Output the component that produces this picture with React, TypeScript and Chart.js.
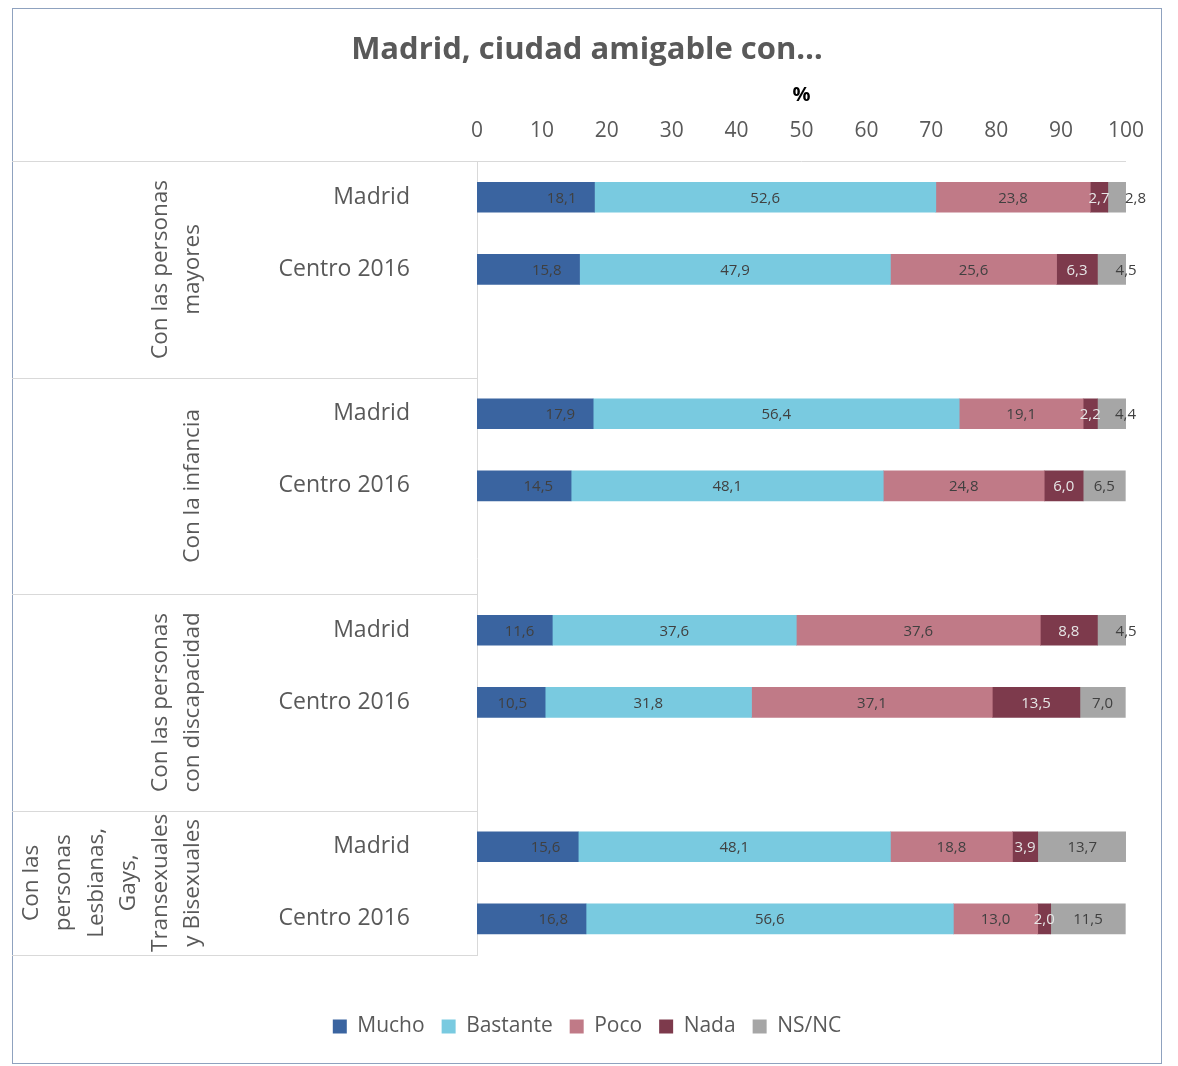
import React, { useEffect, useRef } from 'react';
import { Chart, registerables } from 'chart.js';

Chart.register(...registerables);

const chartTitle = 'Madrid, ciudad amigable con…';
const axisTitle = '%';
const rowLabels = ['Madrid', 'Centro 2016', '', 'Madrid', 'Centro 2016', '', 'Madrid', 'Centro 2016', '', 'Madrid', 'Centro 2016'];
const groupLabels = [
  ['Con las personas', 'mayores'],
  ['Con la infancia'],
  ['Con las personas', 'con discapacidad'],
  ['Con las', 'personas', 'Lesbianas,', 'Gays,', 'Transexuales', 'y Bisexuales'],
];
const groupSizes = [3, 3, 3, 2];
const seriesNames = ['Mucho', 'Bastante', 'Poco', 'Nada', 'NS/NC'];
const mucho = [18.1, 15.8, null, 17.9, 14.5, null, 11.6, 10.5, null, 15.6, 16.8];
const bastante = [52.6, 47.9, null, 56.4, 48.1, null, 37.6, 31.8, null, 48.1, 56.6];
const poco = [23.8, 25.6, null, 19.1, 24.8, null, 37.6, 37.1, null, 18.8, 13.0];
const nada = [2.7, 6.3, null, 2.2, 6.0, null, 8.8, 13.5, null, 3.9, 2.0];
const nsnc = [2.8, 4.5, null, 4.4, 6.5, null, 4.5, 7.0, null, 13.7, 11.5];
const xMin = 0;
const xMax = 100;
const xStep = 10;

const seriesValues = [mucho, bastante, poco, nada, nsnc];
const seriesColors = ['#3A64A0', '#79CAE0', '#C07A87', '#7D3A4C', '#A6A6A6'];
const labelColors = ['#404040', '#404040', '#404040', '#E6E6E6', '#404040'];

const FONT = "'Open Sans', 'DejaVu Sans', sans-serif";
const TXT = '#595959';
const GRID = '#D9D9D9';

const fmt = (v: number) => v.toFixed(1).replace('.', ',');

const tablePlugin = {
  id: 'tablePlugin',
  afterDraw(chart: any) {
    const ctx = chart.ctx;
    const area = chart.chartArea;
    const y = chart.scales.y;
    const step = y.getPixelForValue(1) - y.getPixelForValue(0);
    ctx.save();
    // outer frame
    ctx.strokeStyle = '#8FA2BF';
    ctx.lineWidth = 1;
    ctx.strokeRect(0.5, 0.5, chart.width - 1, chart.height - 1);
    // table lines and group labels
    ctx.strokeStyle = GRID;
    let start = 0;
    const drawH = (py: number) => {
      ctx.beginPath();
      ctx.moveTo(0, Math.round(py) + 0.5);
      ctx.lineTo(area.left, Math.round(py) + 0.5);
      ctx.stroke();
    };
    drawH(y.getPixelForValue(0) - step / 2);
    groupSizes.forEach((n, g) => {
      const top = y.getPixelForValue(start) - step / 2;
      const bottom = y.getPixelForValue(start + n - 1) + step / 2;
      drawH(bottom);
      const cy = (top + bottom) / 2;
      const lines = groupLabels[g];
      const lastX = area.left - 284;
      const gap = 32.3;
      ctx.fillStyle = TXT;
      ctx.font = `22.5px ${FONT}`;
      ctx.textAlign = 'center';
      ctx.textBaseline = 'middle';
      lines.forEach((line, i) => {
        const lx = lastX - (lines.length - 1 - i) * gap;
        ctx.save();
        ctx.translate(lx, cy);
        ctx.rotate(-Math.PI / 2);
        ctx.fillText(line, 0, 0);
        ctx.restore();
      });
      start += n;
    });
    ctx.restore();
  },
};

const dataLabelPlugin = {
  id: 'dataLabelPlugin',
  afterDatasetsDraw(chart: any) {
    const ctx = chart.ctx;
    ctx.save();
    ctx.font = `15px ${FONT}`;
    ctx.textBaseline = 'middle';
    chart.data.datasets.forEach((ds: any, di: number) => {
      const meta = chart.getDatasetMeta(di);
      meta.data.forEach((bar: any, i: number) => {
        const v = ds.data[i];
        if (v == null) return;
        const { x, y, base } = bar.getProps(['x', 'y', 'base'], true);
        const text = fmt(v);
        const w = ctx.measureText(text).width;
        const segW = x - base;
        ctx.fillStyle = labelColors[di];
        let tx: number;
        if (di === 0) {
          ctx.textAlign = 'right';
          tx = x - 18;
        } else if (di === 4 && segW < w + 2) {
          ctx.textAlign = 'left';
          tx = x - 1;
        } else if (di === 4 && segW < w + 12) {
          ctx.textAlign = 'right';
          tx = x + 10;
        } else {
          ctx.textAlign = 'center';
          tx = (x + base) / 2;
        }
        ctx.fillText(text, tx, y + 1);
      });
    });
    ctx.restore();
  },
};

export default function App() {
  const ref = useRef<HTMLCanvasElement | null>(null);
  useEffect(() => {
    if (!ref.current) return;
    const chart = new Chart(ref.current, {
      type: 'bar',
      data: {
        labels: rowLabels,
        datasets: seriesNames.map((name, i) => ({
          label: name,
          data: seriesValues[i] as any,
          backgroundColor: seriesColors[i],
          borderWidth: 0,
          barThickness: 30,
          xAxisID: 'x',
        })),
      },
      options: {
        indexAxis: 'y',
        responsive: false,
        animation: false,
        layout: { padding: { left: 0, right: 0, top: 0, bottom: 17 } },
        scales: {
          x: {
            position: 'top',
            stacked: true,
            min: xMin,
            max: xMax,
            ticks: { stepSize: xStep, color: TXT, font: { family: FONT, size: 21 }, padding: 18 },
            grid: { display: false, drawTicks: false },
            border: { display: true, color: GRID },
            title: { display: true, text: axisTitle, color: '#000000', font: { family: FONT, size: 20, weight: 'bold' }, padding: { top: 14, bottom: 0 } },
            afterFit: (s: any) => { s.height = 92; },
          },
          x2: {
            position: 'bottom',
            type: 'linear',
            display: true,
            ticks: { display: false },
            grid: { display: false, drawTicks: false },
            border: { display: false },
            afterFit: (s: any) => { s.height = 44; },
          },
          y: {
            stacked: true,
            ticks: { autoSkip: false, color: TXT, font: { family: FONT, size: 23 }, padding: 67 },
            grid: { display: false, drawTicks: false },
            border: { display: true, color: GRID },
            afterFit: (s: any) => { s.width = 465; },
          },
          y2: {
            position: 'right',
            type: 'linear',
            display: true,
            ticks: { display: false },
            grid: { display: false, drawTicks: false },
            border: { display: false },
            afterFit: (s: any) => { s.width = 34; },
          },
        },
        plugins: {
          title: {
            display: true,
            text: chartTitle,
            color: TXT,
            font: { family: FONT, size: 31, weight: 'bold' },
            padding: { top: 24, bottom: 0 },
          },
          legend: {
            position: 'bottom',
            labels: { boxWidth: 14, boxHeight: 14, padding: 17, color: TXT, font: { family: FONT, size: 21 } },
          },
          tooltip: { enabled: false },
        },
      } as any,
      plugins: [tablePlugin, dataLabelPlugin],
    });
    return () => chart.destroy();
  }, []);
  return (
    <div style={{ position: 'fixed', left: 12, top: 8, width: 1150, height: 1056 }}>
      <canvas ref={ref} width={1150} height={1056} />
    </div>
  );
}
